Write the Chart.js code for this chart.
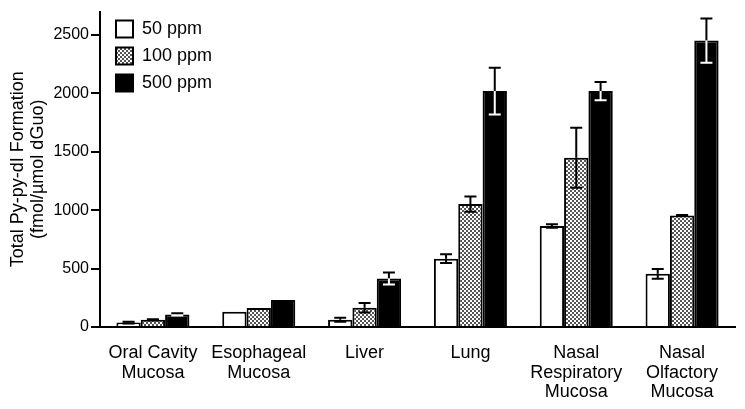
<!DOCTYPE html>
<html>
<head>
<meta charset="utf-8">
<script src="https://cdn.jsdelivr.net/npm/chart.js@4.4.1/dist/chart.umd.min.js"></script>
<style>
  html, body { margin: 0; padding: 0; background: #fff; }
</style>
</head>
<body>
<canvas id="chart" width="745" height="409"></canvas>
<script>
// data
const tissues = [
    ['Oral Cavity', 'Mucosa'],
    ['Esophageal', 'Mucosa'],
    'Liver',
    'Lung',
    ['Nasal', 'Respiratory', 'Mucosa'],
    ['Nasal', 'Olfactory', 'Mucosa']
];
const seriesNames = ['50 ppm', '100 ppm', '500 ppm'];
const ppm50 = [38, 130, 62, 585, 865, 455];
const ppm100 = [62, 162, 165, 1052, 1448, 955];
const ppm500 = [108, 232, 415, 2020, 2020, 2452];
const err50 = [8, 0, 18, 38, 15, 42];
const err100 = [5, 0, 40, 65, 257, 4];
const err500 = [10, 0, 52, 200, 78, 190];
const yTicks = [0, 500, 1000, 1500, 2000, 2500];
const yMax = 2700;

Chart.defaults.font.family = "'Liberation Sans', Arial, sans-serif";
Chart.defaults.color = '#000';

// stippled fill for the 100 ppm bars
function makeDots() {
    const c = document.createElement('canvas');
    c.width = 4;
    c.height = 4;
    const g = c.getContext('2d');
    g.fillStyle = '#fff';
    g.fillRect(0, 0, 4, 4);
    g.fillStyle = '#555';
    g.fillRect(0, 0, 2, 2);
    g.fillRect(2, 2, 2, 2);
    return g.createPattern(c, 'repeat');
}

const errorBars = {
    id: 'errorBars',
    afterDatasetsDraw(chart) {
        const ctx = chart.ctx;
        const y = chart.scales.y;
        chart.data.datasets.forEach((ds, i) => {
            const meta = chart.getDatasetMeta(i);
            meta.data.forEach((bar, j) => {
                const err = ds.errors[j];
                if (!err) return;
                const v = ds.data[j];
                const top = y.getPixelForValue(v + err);
                const bot = y.getPixelForValue(v - err);
                const x = bar.x;
                ctx.save();
                ctx.lineWidth = 2;
                ctx.strokeStyle = '#000';
                ctx.beginPath();
                ctx.moveTo(x, bar.y);
                ctx.lineTo(x, top);
                ctx.moveTo(x - 6, top);
                ctx.lineTo(x + 6, top);
                ctx.stroke();
                ctx.strokeStyle = ds.innerColor;
                ctx.beginPath();
                ctx.moveTo(x, bar.y);
                ctx.lineTo(x, bot);
                ctx.moveTo(x - 6, bot);
                ctx.lineTo(x + 6, bot);
                ctx.stroke();
                ctx.restore();
            });
        });
    }
};

// nudge the in-plot legend to where the figure has it
const legendShift = {
    id: 'legendShift',
    afterLayout(chart) {
        const lg = chart.legend;
        lg.left += 7;
        lg.right += 7;
        lg.top += 11;
        lg.bottom += 11;
    }
};

new Chart(document.getElementById('chart'), {
    type: 'bar',
    data: {
        labels: tissues,
        datasets: [{
            label: seriesNames[0],
            data: ppm50,
            errors: err50,
            innerColor: '#000',
            backgroundColor: '#fff',
            borderColor: '#000',
            borderWidth: 2
        }, {
            label: seriesNames[1],
            data: ppm100,
            errors: err100,
            innerColor: '#000',
            backgroundColor: makeDots(),
            borderColor: '#000',
            borderWidth: 2
        }, {
            label: seriesNames[2],
            data: ppm500,
            errors: err500,
            innerColor: '#fff',
            backgroundColor: '#000',
            borderColor: '#000',
            borderWidth: 2
        }]
    },
    options: {
        responsive: false,
        animation: false,
        categoryPercentage: 0.69,
        barPercentage: 1,
        layout: {
            padding: { top: 10, right: 10, left: 0, bottom: 0 }
        },
        plugins: {
            tooltip: { enabled: false },
            legend: {
                position: 'chartArea',
                align: 'start',
                labels: {
                    boxWidth: 17,
                    boxHeight: 17,
                    padding: 9,
                    font: { size: 18 }
                }
            }
        },
        scales: {
            x: {
                afterFit: function (scale) { scale.height = 82; },
                grid: { display: false },
                border: { color: '#000', width: 2 },
                ticks: {
                    padding: 8,
                    maxRotation: 0,
                    autoSkip: false,
                    font: { size: 18, lineHeight: 1.1 }
                }
            },
            y: {
                min: 0,
                max: yMax,
                afterFit: function (scale) { scale.width = 100; },
                afterBuildTicks: function (scale) {
                    scale.ticks = yTicks.map(v => ({ value: v }));
                },
                grid: {
                    drawOnChartArea: false,
                    color: '#000',
                    lineWidth: 2,
                    tickLength: 9
                },
                border: { color: '#000', width: 2 },
                ticks: {
                    padding: 2,
                    font: { size: 16 },
                    callback: v => String(v)
                },
                title: {
                    display: true,
                    text: ['Total Py-py-dI Formation', '(fmol/\u00b5mol dGuo)'],
                    font: { size: 18, lineHeight: 1.1 },
                    padding: { top: 8, bottom: 0 }
                }
            }
        }
    },
    plugins: [errorBars, legendShift]
});
</script>
</body>
</html>
